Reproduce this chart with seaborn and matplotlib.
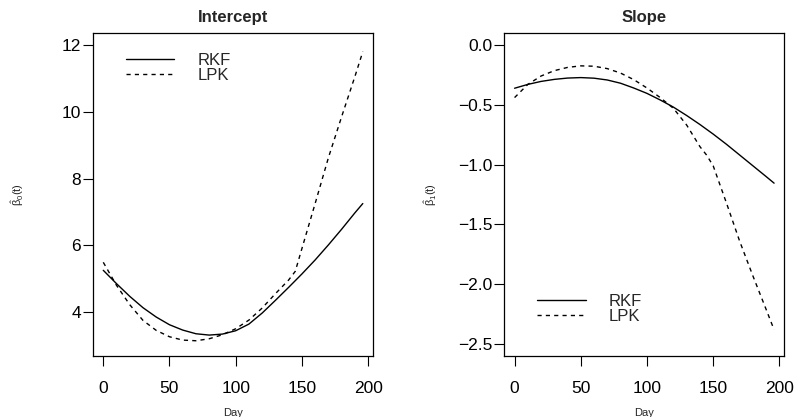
import pandas as pd
import matplotlib
matplotlib.use('Agg')
import matplotlib.pyplot as plt
import seaborn as sns

day = [0, 10, 20, 30, 40, 50, 60, 70, 80, 90, 100, 110, 120, 130, 140, 145,
       150, 160, 170, 180, 190, 196]

# intercept beta0(t)
b0_rkf = [5.25, 4.85, 4.47, 4.13, 3.85, 3.62, 3.46, 3.35, 3.31, 3.34, 3.44,
          3.64, 3.97, 4.35, 4.74, 4.94, 5.14, 5.56, 6.01, 6.48, 6.97, 7.25]
b0_lpk = [5.49, 4.80, 4.22, 3.75, 3.45, 3.26, 3.16, 3.14, 3.20, 3.32, 3.50,
          3.76, 4.12, 4.55, 4.96, 5.22, 5.90, 7.25, 8.62, 9.85, 11.05, 11.80]

# slope beta1(t)
b1_rkf = [-0.362, -0.330, -0.305, -0.288, -0.277, -0.273, -0.278, -0.293,
          -0.320, -0.360, -0.405, -0.460, -0.520, -0.590, -0.665, -0.705,
          -0.745, -0.830, -0.920, -1.010, -1.100, -1.155]
b1_lpk = [-0.440, -0.330, -0.260, -0.215, -0.188, -0.175, -0.178, -0.198,
          -0.235, -0.290, -0.360, -0.440, -0.530, -0.670, -0.850, -0.920,
          -1.010, -1.320, -1.640, -1.930, -2.210, -2.380]

methods = ['RKF', 'LPK']


def long_df(rkf, lpk):
    return pd.DataFrame({'Day': day * 2,
                         'value': rkf + lpk,
                         'method': ['RKF'] * len(day) + ['LPK'] * len(day)})


sns.set_style('ticks')
plt.rcParams['font.family'] = ['Liberation Sans', 'DejaVu Sans']
plt.rcParams['mathtext.fontset'] = 'custom'
plt.rcParams['mathtext.rm'] = 'Liberation Sans'
plt.rcParams['mathtext.it'] = 'Liberation Sans'

fig = plt.figure(figsize=(7.94, 4.17), dpi=100)
ax1 = fig.add_axes([0.117, 0.146, 0.353, 0.775])
ax2 = fig.add_axes([0.635, 0.146, 0.353, 0.775])

panels = [
    (ax1, long_df(b0_rkf, b0_lpk), 'Intercept', r'$\hat{\beta}_0(t)$',
     (2.68, 12.36), [4, 6, 8, 10, 12], ['4', '6', '8', '10', '12'],
     (0.118, 0.937), -0.24),
    (ax2, long_df(b1_rkf, b1_lpk), 'Slope', r'$\hat{\beta}_1(t)$',
     (-2.6, 0.1), [0.0, -0.5, -1.0, -1.5, -2.0, -2.5],
     ['0.0', '\u22120.5', '\u22121.0', '\u22121.5', '\u22122.0', '\u22122.5'],
     (0.118, 0.193), -0.233),
]

for ax, df, title, ylab, ylim, yt, ytl, leg_pos, ylab_x in panels:
    sns.lineplot(data=df, x='Day', y='value', style='method',
                 style_order=methods, dashes={'RKF': '', 'LPK': (3, 3)},
                 color='black', linewidth=1.0, ax=ax)
    ax.set_xlim(-7.84, 203.84)
    ax.set_ylim(*ylim)
    ax.set_xticks([0, 50, 100, 150, 200])
    ax.set_yticks(yt)
    ax.set_yticklabels(ytl)
    ax.tick_params(axis='both', direction='out', length=7, width=0.8,
                   labelsize=12.5, colors='black')
    ax.tick_params(axis='x', pad=11)
    ax.tick_params(axis='y', pad=1.5)
    for s in ax.spines.values():
        s.set_visible(True)
        s.set_linewidth(0.9)
        s.set_color('black')
    ax.set_title(title, fontsize=12, fontweight='bold', pad=8)
    ax.set_xlabel('Day', fontsize=8)
    ax.set_ylabel(ylab, fontsize=8)
    ax.xaxis.set_label_coords(0.5, -0.16)
    ax.yaxis.set_label_coords(ylab_x, 0.5)
    ax.legend(loc='upper left', bbox_to_anchor=leg_pos, frameon=False,
              fontsize=12, handlelength=2.9, handletextpad=1.4,
              labelspacing=0.0, borderaxespad=0, borderpad=0, title=None)

fig.savefig('out.png', dpi=100)
